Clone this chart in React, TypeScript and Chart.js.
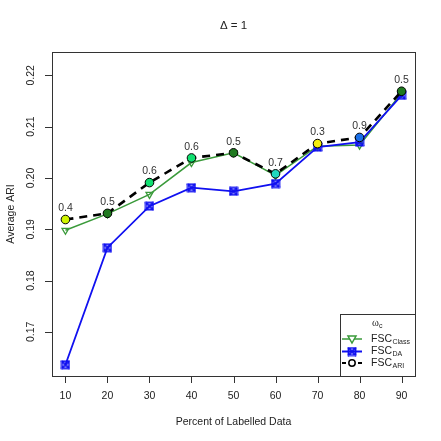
import React, { useEffect, useRef } from "react";
import { Chart, registerables } from "chart.js";

Chart.register(...registerables);

const xValues = [10, 20, 30, 40, 50, 60, 70, 80, 90];
const fscClass = [0.1898, 0.193, 0.1968, 0.203, 0.2049, 0.2005, 0.2062, 0.2064, 0.2165];
const fscDA = [0.1636, 0.1864, 0.1945, 0.1981, 0.1974, 0.1989, 0.206, 0.207, 0.2161];
const fscARI = [0.1919, 0.1931, 0.1991, 0.2039, 0.2049, 0.2008, 0.2067, 0.2079, 0.2169];
const omegaLabels = ["0.4", "0.5", "0.6", "0.6", "0.5", "0.7", "0.3", "0.9", "0.5"];
const omegaColorMap: Record<string, string> = {
  "0.3": "#f4ee10",
  "0.4": "#d0f500",
  "0.5": "#1f7a1f",
  "0.6": "#10e070",
  "0.7": "#20d8c0",
  "0.9": "#1a70e8",
};
const xTicks = [10, 20, 30, 40, 50, 60, 70, 80, 90];
const yTicks = [0.17, 0.18, 0.19, 0.2, 0.21, 0.22];
const yTickLabels = ["0.17", "0.18", "0.19", "0.20", "0.21", "0.22"];
const titleText = "\u0394 = 1";
const xTitle = "Percent of Labelled Data";
const yTitle = "Average ARI";

const GREEN = "#3a9a3a";
const BLUE = "#1010f0";
const FONT = "'Liberation Sans', Arial, sans-serif";

function makeDAMarker(): HTMLCanvasElement {
  const c = document.createElement("canvas");
  c.width = 10;
  c.height = 10;
  const g = c.getContext("2d")!;
  g.strokeStyle = BLUE;
  g.fillStyle = BLUE;
  g.lineWidth = 1.8;
  g.strokeRect(1.5, 1.5, 7, 7);
  g.beginPath();
  g.moveTo(1, 1);
  g.lineTo(9, 9);
  g.moveTo(9, 1);
  g.lineTo(1, 9);
  g.stroke();
  return c;
}

export default function App() {
  const ref = useRef<HTMLCanvasElement | null>(null);

  useEffect(() => {
    document.body.style.margin = "0";
    const daMarker = makeDAMarker();

    const customPlugin = {
      id: "rstyle",
      afterDatasetsDraw(chart: any) {
        const ctx = chart.ctx;
        const meta = chart.getDatasetMeta(2);
        ctx.save();
        ctx.font = `10.5px ${FONT}`;
        ctx.fillStyle = "#333333";
        ctx.textAlign = "center";
        ctx.textBaseline = "middle";
        meta.data.forEach((pt: any, i: number) => {
          ctx.fillText(omegaLabels[i], pt.x, pt.y - 11);
        });
        ctx.restore();
      },
      afterDraw(chart: any) {
        const ctx = chart.ctx;
        const a = chart.chartArea;
        const xs = chart.scales.x;
        const ys = chart.scales.y;
        ctx.save();
        // frame
        ctx.strokeStyle = "#333333";
        ctx.lineWidth = 1;
        ctx.strokeRect(Math.round(a.left) + 0.5, Math.round(a.top) + 0.5, Math.round(a.right - a.left), Math.round(a.bottom - a.top));
        // x ticks
        ctx.font = `10.5px ${FONT}`;
        ctx.fillStyle = "#222222";
        ctx.textAlign = "center";
        ctx.textBaseline = "middle";
        ctx.beginPath();
        xTicks.forEach((v) => {
          const px = Math.round(xs.getPixelForValue(v)) + 0.5;
          ctx.moveTo(px, a.bottom);
          ctx.lineTo(px, a.bottom + 7);
        });
        ctx.stroke();
        xTicks.forEach((v) => {
          ctx.fillText(String(v), xs.getPixelForValue(v), a.bottom + 20);
        });
        // y ticks
        ctx.beginPath();
        yTicks.forEach((v) => {
          const py = Math.round(ys.getPixelForValue(v)) + 0.5;
          ctx.moveTo(a.left, py);
          ctx.lineTo(a.left - 7, py);
        });
        ctx.stroke();
        yTicks.forEach((v, i) => {
          ctx.save();
          ctx.translate(a.left - 21, ys.getPixelForValue(v));
          ctx.rotate(-Math.PI / 2);
          ctx.fillText(yTickLabels[i], 0, 0);
          ctx.restore();
        });
        // axis titles
        const cx = (a.left + a.right) / 2;
        const cy = (a.top + a.bottom) / 2;
        ctx.font = `10.5px ${FONT}`;
        ctx.fillText(xTitle, cx, a.bottom + 46);
        ctx.save();
        ctx.translate(11, cy);
        ctx.rotate(-Math.PI / 2);
        ctx.fillText(yTitle, 0, 0);
        ctx.restore();
        // title
        ctx.font = `11.5px ${FONT}`;
        ctx.fillText(titleText, cx, 26);

        // legend
        const lx = 340;
        const ly = 314;
        const lw = Math.round(a.right) - lx;
        const lh = Math.round(a.bottom) - ly;
        ctx.fillStyle = "#ffffff";
        ctx.fillRect(lx + 0.5, ly + 0.5, lw, lh);
        ctx.strokeStyle = "#333333";
        ctx.strokeRect(lx + 0.5, ly + 0.5, lw, lh);
        ctx.fillStyle = "#222222";
        ctx.textAlign = "left";
        ctx.font = `10.5px 'Liberation Serif', serif`;
        ctx.fillText("\u03c9", 372, 323);
        ctx.font = `7px ${FONT}`;
        ctx.fillText("c", 379, 326);

        const rows = [
          { y: 339, name: "Class" },
          { y: 351.5, name: "DA" },
          { y: 363, name: "ARI" },
        ];
        rows.forEach((r, i) => {
          ctx.save();
          if (i === 0) {
            ctx.strokeStyle = GREEN;
            ctx.lineWidth = 1.5;
            ctx.beginPath();
            ctx.moveTo(342, r.y);
            ctx.lineTo(362, r.y);
            ctx.stroke();
            ctx.beginPath();
            ctx.moveTo(348, r.y - 3);
            ctx.lineTo(356, r.y - 3);
            ctx.lineTo(352, r.y + 4);
            ctx.closePath();
            ctx.fillStyle = "#ffffff";
            ctx.fill();
            ctx.stroke();
          } else if (i === 1) {
            ctx.strokeStyle = BLUE;
            ctx.lineWidth = 2;
            ctx.beginPath();
            ctx.moveTo(342, r.y);
            ctx.lineTo(362, r.y);
            ctx.stroke();
            ctx.drawImage(daMarker, 352 - 5, r.y - 5);
          } else {
            ctx.strokeStyle = "#000000";
            ctx.lineWidth = 2.2;
            ctx.beginPath();
            ctx.moveTo(342, r.y);
            ctx.lineTo(346, r.y);
            ctx.moveTo(358, r.y);
            ctx.lineTo(362, r.y);
            ctx.stroke();
            ctx.lineWidth = 1.5;
            ctx.beginPath();
            ctx.arc(352, r.y, 3.2, 0, Math.PI * 2);
            ctx.fillStyle = "#ffffff";
            ctx.fill();
            ctx.stroke();
          }
          ctx.restore();
          ctx.fillStyle = "#222222";
          ctx.font = `10.5px ${FONT}`;
          ctx.fillText("FSC", 371, r.y);
          const w = ctx.measureText("FSC").width;
          ctx.font = `7px ${FONT}`;
          ctx.fillText(r.name, 371 + w + 0.5, r.y + 3);
        });
        ctx.restore();
      },
    };

    const chart = new Chart(ref.current!, {
      type: "line",
      data: {
        datasets: [
          {
            label: "FSC_Class",
            data: xValues.map((x, i) => ({ x, y: fscClass[i] })),
            borderColor: GREEN,
            borderWidth: 1.5,
            pointStyle: "triangle",
            rotation: 180,
            pointRadius: 4,
            pointBorderColor: GREEN,
            pointBackgroundColor: "rgba(255,255,255,0)",
            pointBorderWidth: 1.3,
            order: 3,
          },
          {
            label: "FSC_DA",
            data: xValues.map((x, i) => ({ x, y: fscDA[i] })),
            borderColor: BLUE,
            borderWidth: 1.8,
            pointStyle: daMarker,
            pointRadius: 5,
            order: 2,
          },
          {
            label: "FSC_ARI",
            data: xValues.map((x, i) => ({ x, y: fscARI[i] })),
            borderColor: "#000000",
            borderWidth: 2.6,
            borderDash: [8, 6],
            pointStyle: "circle",
            pointRadius: 4.3,
            pointBorderColor: "#000000",
            pointBorderWidth: 1,
            pointBackgroundColor: omegaLabels.map((l) => omegaColorMap[l]),
            order: 1,
          },
        ],
      },
      options: {
        responsive: false,
        animation: false,
        events: [],
        layout: { padding: { left: 52, top: 52, right: 26, bottom: 65 } },
        plugins: { legend: { display: false }, title: { display: false }, tooltip: { enabled: false } },
        scales: {
          x: { type: "linear", display: false, min: 6.8, max: 93.2 },
          y: { type: "linear", display: false, min: 0.1614, max: 0.22455 },
        },
      },
      plugins: [customPlugin],
    });
    return () => chart.destroy();
  }, []);

  return (
    <div style={{ position: "absolute", left: 0, top: 0, width: 441, height: 441, background: "#fff" }}>
      <canvas ref={ref} width={441} height={441} style={{ display: "block" }} />
    </div>
  );
}
